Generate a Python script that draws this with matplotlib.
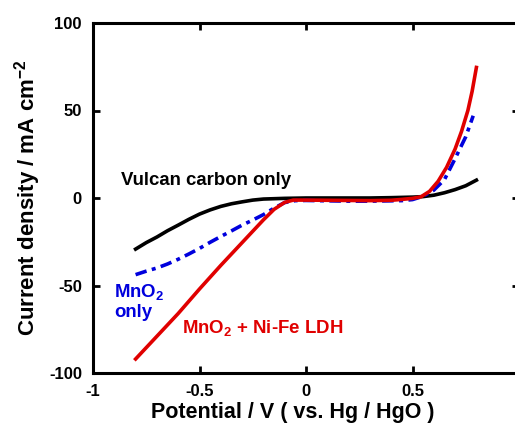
import numpy as np
import matplotlib.pyplot as plt

plt.rcParams['font.family'] = ['Liberation Sans', 'DejaVu Sans']
plt.rcParams['font.weight'] = 'bold'
plt.rcParams['axes.labelweight'] = 'bold'
plt.rcParams['axes.unicode_minus'] = False
plt.rcParams['mathtext.fontset'] = 'custom'
plt.rcParams['mathtext.rm'] = 'Liberation Sans:bold'
plt.rcParams['mathtext.bf'] = 'Liberation Sans:bold'
plt.rcParams['mathtext.default'] = 'bf'

# Vulcan carbon only (black)
v_carbon = [-0.80, -0.75, -0.70, -0.65, -0.60, -0.55, -0.50, -0.45, -0.40, -0.35,
            -0.30, -0.25, -0.20, -0.10, 0.00, 0.10, 0.20, 0.30, 0.40, 0.50,
            0.55, 0.60, 0.65, 0.70, 0.75, 0.80]
j_carbon = [-29.2, -25.5, -22.3, -18.7, -15.5, -12.2, -9.2, -6.8, -4.8, -3.3,
            -2.2, -1.2, -0.6, -0.2, 0.0, 0.0, 0.0, 0.0, 0.2, 0.5,
            0.8, 1.6, 3.0, 4.8, 7.0, 10.2]

# MnO2 only (blue, dash-dot)
v_mno2 = [-0.80, -0.75, -0.70, -0.65, -0.60, -0.55, -0.50, -0.45, -0.40, -0.35,
          -0.30, -0.25, -0.20, -0.15, -0.10, -0.05, 0.00, 0.10, 0.20, 0.30,
          0.40, 0.45, 0.50, 0.55, 0.60, 0.65, 0.70, 0.75, 0.785]
j_mno2 = [-43.8, -41.8, -40.0, -37.7, -35.0, -32.0, -28.8, -25.3, -22.0, -18.8,
          -15.5, -12.6, -9.5, -5.8, -2.6, -1.5, -1.4, -1.6, -1.8, -1.8,
          -1.6, -1.5, -0.9, 1.0, 4.5, 10.5, 22.5, 35.0, 47.0]

# MnO2 + Ni-Fe LDH (red)
v_ldh = [-0.80, -0.70, -0.60, -0.50, -0.40, -0.30, -0.20, -0.15, -0.10, -0.06,
         0.00, 0.10, 0.20, 0.30, 0.40, 0.45, 0.50, 0.54, 0.58, 0.62,
         0.66, 0.70, 0.73, 0.76, 0.78, 0.80]
j_ldh = [-92.0, -79.0, -66.0, -52.0, -38.5, -25.5, -12.5, -6.5, -2.5, -1.2,
         -1.2, -1.3, -1.4, -1.5, -1.3, -0.8, -0.2, 0.7, 3.8, 9.5,
         17.5, 28.0, 38.0, 50.0, 61.0, 74.6]

xticks = [-1, -0.5, 0, 0.5, 1]
xticklabels = ['-1', '-0.5', '0', '0.5', '1']
yticks = [-100, -50, 0, 50, 100]

blue = '#0000dd'
red = '#e00000'

fig = plt.figure(figsize=(5.15, 4.34), dpi=100)
ax = fig.add_axes([93 / 515, 1 - 373 / 434, 426 / 515, 350 / 434])

ax.plot(v_carbon, j_carbon, color='black', lw=2.6)
ax.plot(v_mno2, j_mno2, color=blue, lw=2.6, dashes=(3.2, 1.5, 1.1, 1.5))
ax.plot(v_ldh, j_ldh, color=red, lw=2.6)

ax.set_xlim(-1, 1)
ax.set_ylim(-100, 100)
ax.set_xticks(xticks)
ax.set_xticklabels(xticklabels)
ax.set_yticks(yticks)
ax.tick_params(direction='in', length=5, width=2, labelsize=12, pad=8,
               top=True, right=True)
for s in ax.spines.values():
    s.set_linewidth(2.2)

ax.set_xlabel('Potential / V ( vs. Hg / HgO )', fontsize=15.5, va='center')
ax.xaxis.set_label_coords(0.47, -0.114)
ax.set_ylabel('Current density / mA cm$^{-2}$', fontsize=16,
              ha='center', va='center')
ax.yaxis.set_label_coords(-0.153, 0.5)

ax.text(-0.87, 10, 'Vulcan carbon only', fontsize=13.4, va='center')
ax.text(-0.90, -59, 'MnO$_2$\nonly', fontsize=13.4, color=blue, va='center',
        linespacing=1.15)
ax.text(-0.58, -74, 'MnO$_2$ + Ni-Fe LDH', fontsize=13.4, color=red, va='center')

fig.savefig('out.png', dpi=100)
